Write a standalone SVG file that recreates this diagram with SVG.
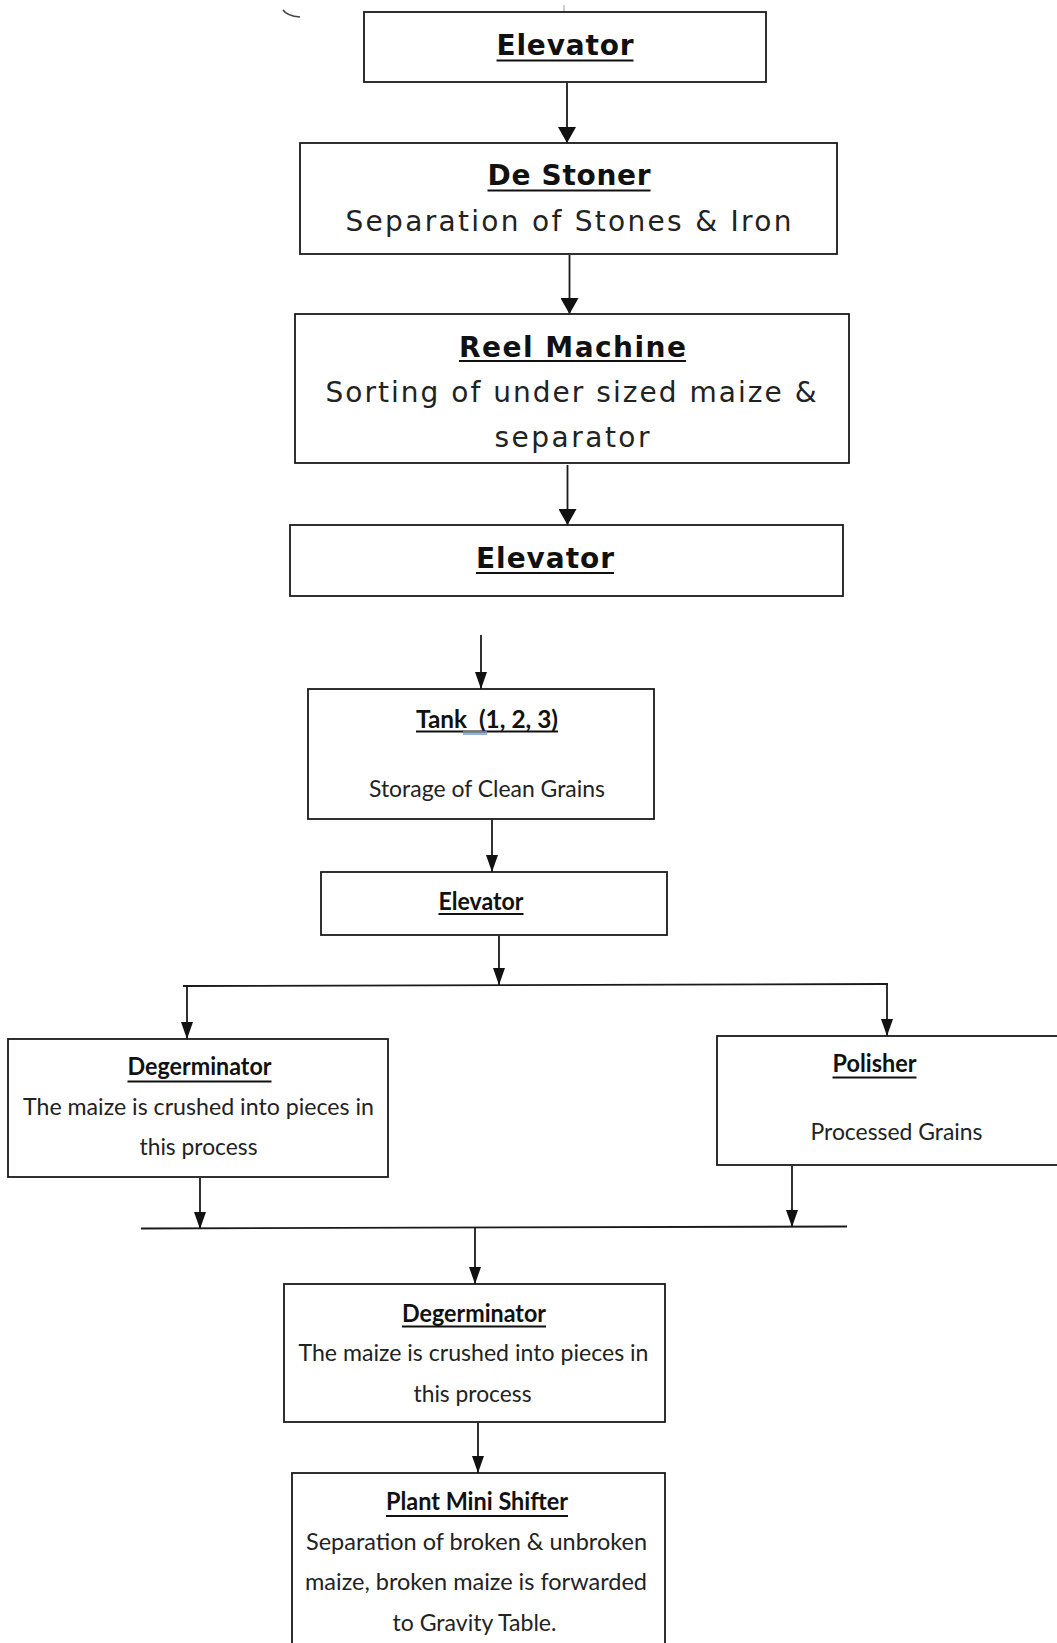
<svg xmlns="http://www.w3.org/2000/svg" width="1057" height="1643" viewBox="0 0 1057 1643">
<style>
  .box { fill: #fff; stroke: #1a1a1a; stroke-width: 1.8; }
  .conn { stroke: #1a1a1a; stroke-width: 1.8; fill: none; }
  .ul { stroke: #111; stroke-width: 2; }
  .vt { font-family: "DejaVu Sans", Verdana, sans-serif; font-weight: bold; font-size: 28px; fill: #111; text-anchor: middle; }
  .vb { font-family: "DejaVu Sans", Verdana, sans-serif; font-size: 28px; fill: #222; text-anchor: middle; }
  .ct { font-family: Lato, "Liberation Sans", sans-serif; font-weight: bold; font-size: 24px; fill: #111; text-anchor: middle; }
  .cb { font-family: Lato, "Liberation Sans", sans-serif; font-size: 24px; fill: #222; text-anchor: middle; }
</style>
<defs>
  <marker id="big" viewBox="0 0 16 18" refX="16" refY="9" markerWidth="16" markerHeight="18" markerUnits="userSpaceOnUse" orient="auto">
    <path d="M0,0 L16,9 L0,18 z" fill="#111"/>
  </marker>
  <marker id="small" viewBox="0 0 17 12" refX="17" refY="6" markerWidth="17" markerHeight="12" markerUnits="userSpaceOnUse" orient="auto">
    <path d="M0,0 L17,6 L0,12 z" fill="#111"/>
  </marker>
</defs>
<rect width="1057" height="1643" fill="#fff"/>

<!-- stray marks -->
<path d="M283,10 Q287,16 300,17" stroke="#444" stroke-width="1.5" fill="none"/>
<line x1="564" y1="5" x2="564" y2="12" stroke="#999" stroke-width="1"/>

<g id="connectors">
  <line class="conn" x1="567" y1="83" x2="567" y2="143" marker-end="url(#big)"/>
  <line class="conn" x1="569.5" y1="255" x2="569.5" y2="314" marker-end="url(#big)"/>
  <line class="conn" x1="567.5" y1="465" x2="567.5" y2="525" marker-end="url(#big)"/>
  <line class="conn" x1="481" y1="635" x2="481" y2="689" marker-end="url(#small)"/>
  <line class="conn" x1="492" y1="820" x2="492" y2="872" marker-end="url(#small)"/>
  <line class="conn" x1="499" y1="936" x2="499" y2="985" marker-end="url(#small)"/>
  <line class="conn" x1="183" y1="986" x2="888" y2="984"/>
  <line class="conn" x1="187" y1="986" x2="187" y2="1039" marker-end="url(#small)"/>
  <line class="conn" x1="887" y1="984" x2="887" y2="1036" marker-end="url(#small)"/>
  <line class="conn" x1="200" y1="1178" x2="200" y2="1229" marker-end="url(#small)"/>
  <line class="conn" x1="792" y1="1166" x2="792" y2="1227" marker-end="url(#small)"/>
  <line class="conn" x1="141" y1="1228.5" x2="847" y2="1226.5"/>
  <line class="conn" x1="475" y1="1228" x2="475" y2="1284" marker-end="url(#small)"/>
  <line class="conn" x1="478" y1="1423" x2="478" y2="1473" marker-end="url(#small)"/>
</g>

<g id="elevator1">
  <rect class="box" x="364" y="12" width="402" height="70"/>
  <text class="vt" x="565" y="55" textLength="137">Elevator</text>
  <line class="ul" x1="496.5" y1="60.5" x2="633.5" y2="60.5"/>
</g>

<g id="destoner">
  <rect class="box" x="300" y="143" width="537" height="111"/>
  <text class="vt" x="569" y="185" textLength="163">De Stoner</text>
  <line class="ul" x1="487.5" y1="190.5" x2="650.5" y2="190.5"/>
  <text class="vb" x="568.5" y="231" textLength="446">Separation of Stones &amp; Iron</text>
</g>

<g id="reelmachine">
  <rect class="box" x="295" y="314" width="554" height="149"/>
  <text class="vt" x="572.5" y="357" textLength="227">Reel Machine</text>
  <line class="ul" x1="459" y1="361" x2="686" y2="361"/>
  <text class="vb" x="571" y="402" textLength="491">Sorting of under sized maize &amp;</text>
  <text class="vb" x="572" y="446.5" textLength="155">separator</text>
</g>

<g id="elevator2">
  <rect class="box" x="290" y="525" width="553" height="71"/>
  <text class="vt" x="545" y="568" textLength="138">Elevator</text>
  <line class="ul" x1="476" y1="573" x2="614" y2="573"/>
</g>

<g id="tank">
  <rect class="box" x="308" y="689" width="346" height="130"/>
  <text class="ct" x="487" y="728" textLength="142" lengthAdjust="spacingAndGlyphs" xml:space="preserve">Tank  (1, 2, 3)</text>
  <line class="ul" x1="416" y1="731.5" x2="558" y2="731.5" stroke-width="1.6"/>
  <line x1="463" y1="731.5" x2="487" y2="731.5" stroke="#4a7bd8" stroke-width="1.2"/>
  <line x1="463" y1="734" x2="487" y2="734" stroke="#4a7bd8" stroke-width="1.2"/>
  <text class="cb" x="487" y="797" textLength="236" lengthAdjust="spacingAndGlyphs">Storage of Clean Grains</text>
</g>

<g id="elevator3">
  <rect class="box" x="321" y="872" width="346" height="63"/>
  <text class="ct" x="481" y="910" textLength="85" lengthAdjust="spacingAndGlyphs">Elevator</text>
  <line class="ul" x1="438.5" y1="914" x2="523.5" y2="914" stroke-width="1.6"/>
</g>

<g id="degerminator1">
  <rect class="box" x="8" y="1039" width="380" height="138"/>
  <text class="ct" x="199.5" y="1075" textLength="144" lengthAdjust="spacingAndGlyphs">Degerminator</text>
  <line class="ul" x1="127.5" y1="1081.5" x2="271.5" y2="1081.5" stroke-width="1.6"/>
  <text class="cb" x="198.5" y="1115" textLength="351" lengthAdjust="spacingAndGlyphs">The maize is crushed into pieces in</text>
  <text class="cb" x="198.5" y="1155" textLength="118" lengthAdjust="spacingAndGlyphs">this process</text>
</g>

<g id="polisher">
  <rect class="box" x="717" y="1036" width="345" height="129"/>
  <text class="ct" x="874.5" y="1072" textLength="84" lengthAdjust="spacingAndGlyphs">Polisher</text>
  <line class="ul" x1="832.5" y1="1077.5" x2="916.5" y2="1077.5" stroke-width="1.6"/>
  <text class="cb" x="896.5" y="1140" textLength="172" lengthAdjust="spacingAndGlyphs">Processed Grains</text>
</g>

<g id="degerminator2">
  <rect class="box" x="284" y="1284" width="381" height="138"/>
  <text class="ct" x="474" y="1321.5" textLength="144" lengthAdjust="spacingAndGlyphs">Degerminator</text>
  <line class="ul" x1="402" y1="1326.5" x2="546" y2="1326.5" stroke-width="1.6"/>
  <text class="cb" x="473.5" y="1360.5" textLength="350" lengthAdjust="spacingAndGlyphs">The maize is crushed into pieces in</text>
  <text class="cb" x="472.5" y="1401.5" textLength="118" lengthAdjust="spacingAndGlyphs">this process</text>
</g>

<g id="plantminishifter">
  <rect class="box" x="292" y="1473" width="373" height="190"/>
  <text class="ct" x="477" y="1510" textLength="182" lengthAdjust="spacingAndGlyphs">Plant Mini Shifter</text>
  <line class="ul" x1="386" y1="1516" x2="568" y2="1516" stroke-width="1.6"/>
  <text class="cb" x="476.5" y="1549.5" textLength="341" lengthAdjust="spacingAndGlyphs">Separation of broken &amp; unbroken</text>
  <text class="cb" x="476" y="1590" textLength="342" lengthAdjust="spacingAndGlyphs">maize, broken maize is forwarded</text>
  <text class="cb" x="474.5" y="1631" textLength="164" lengthAdjust="spacingAndGlyphs">to Gravity Table.</text>
</g>
</svg>
